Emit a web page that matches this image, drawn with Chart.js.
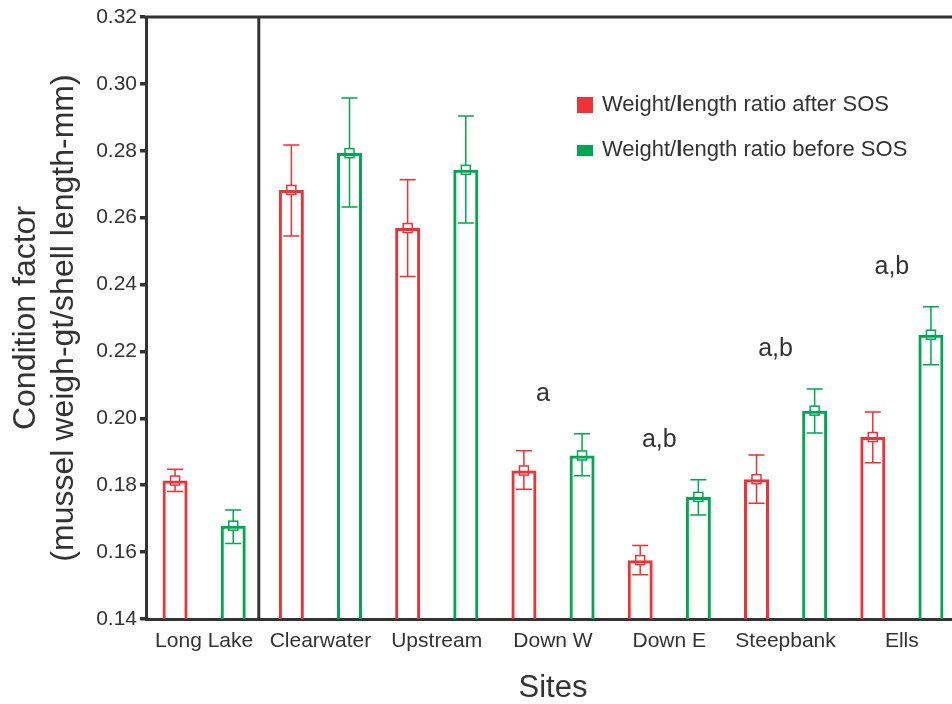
<!DOCTYPE html>
<html>
<head>
<meta charset="utf-8">
<script src="https://cdn.jsdelivr.net/npm/chart.js@4/dist/chart.umd.min.js"></script>
<style>
  html, body { margin: 0; padding: 0; background: #fff; overflow: hidden; width: 952px; height: 704px; }
  #wrap { width: 966px; height: 704px; }
</style>
</head>
<body>
<div id="wrap"><canvas id="c" width="966" height="704"></canvas></div>
<script>
// Sampling sites
const sites = ['Long Lake', 'Clearwater', 'Upstream', 'Down W', 'Down E', 'Steepbank', 'Ells'];

// Mean condition factor after SOS, with error-bar limits
const ratioAfter    = [0.1814, 0.2683, 0.2569, 0.1844, 0.1576, 0.1818, 0.1944];
const ratioAfterHi  = [0.1848, 0.2817, 0.2713, 0.1903, 0.1620, 0.1890, 0.2019];
const ratioAfterLo  = [0.1781, 0.2545, 0.2424, 0.1788, 0.1532, 0.1746, 0.1867];

// Mean condition factor before SOS, with error-bar limits
const ratioBefore   = [0.1679, 0.2793, 0.2743, 0.1889, 0.1765, 0.2023, 0.2250];
const ratioBeforeHi = [0.1726, 0.2958, 0.2904, 0.1954, 0.1816, 0.2088, 0.2334];
const ratioBeforeLo = [0.1626, 0.2632, 0.2584, 0.1828, 0.1711, 0.1956, 0.2160];

// Significance letters per site
const sigLetters = ['', '', '', 'a', 'a,b', 'a,b', 'a,b'];

// Value-axis range and tick step
const yMin = 0.14, yMax = 0.32, yStep = 0.02;

const RED = '#ED3338';
const GREEN = '#00A651';
const INK = '#333333';
const FONT = '"Liberation Sans", Arial, Helvetica, sans-serif';

// Whiskers and hollow square markers, drawn under the bar outlines
const errorBars = {
  id: 'errorBars',
  beforeDatasetsDraw(chart) {
    const ctx = chart.ctx, y = chart.scales.y;
    chart.data.datasets.forEach((ds, i) => {
      const meta = chart.getDatasetMeta(i);
      meta.data.forEach((bar, j) => {
        const x = bar.x;
        const yHi = y.getPixelForValue(ds.errHigh[j]);
        const yLo = y.getPixelForValue(ds.errLow[j]);
        const yMid = y.getPixelForValue(ds.data[j]);
        ctx.save();
        ctx.strokeStyle = ds.borderColor;
        ctx.lineWidth = 1.5;
        ctx.beginPath();
        ctx.moveTo(x, yHi); ctx.lineTo(x, yLo);
        ctx.moveTo(x - 8, yHi); ctx.lineTo(x + 8, yHi);
        ctx.moveTo(x - 8, yLo); ctx.lineTo(x + 8, yLo);
        ctx.stroke();
        ctx.fillStyle = '#fff';
        ctx.fillRect(x - 4.5, yMid - 4.5, 9, 9);
        ctx.strokeRect(x - 4.5, yMid - 4.5, 9, 9);
        ctx.restore();
      });
    });
  }
};

// Frame top edge, control-site divider, significance letters and legend
const decorations = {
  id: 'decorations',
  afterDraw(chart) {
    const ctx = chart.ctx, a = chart.chartArea, xs = chart.scales.x, ys = chart.scales.y;
    ctx.save();
    ctx.strokeStyle = INK;
    ctx.lineWidth = 3;
    ctx.beginPath();
    ctx.moveTo(a.left - 1.5, a.top); ctx.lineTo(a.right, a.top);
    const xDiv = xs.getPixelForValue(0.47);
    ctx.moveTo(xDiv, a.top); ctx.lineTo(xDiv, a.bottom);
    ctx.stroke();

    // letters above the higher whisker of each site
    ctx.fillStyle = INK;
    ctx.font = '25px ' + FONT;
    ctx.textAlign = 'center';
    ctx.textBaseline = 'middle';
    sigLetters.forEach((t, j) => {
      if (!t) return;
      const top = Math.min(ys.getPixelForValue(ratioAfterHi[j]), ys.getPixelForValue(ratioBeforeHi[j]));
      ctx.fillText(t, xs.getPixelForValue(j) - 10, top - 40);
    });

    // legend
    const rows = [{ y: 105, boxY: 97, boxH: 16 }, { y: 150, boxY: 145, boxH: 11 }];
    ctx.textAlign = 'left';
    chart.data.datasets.forEach((ds, i) => {
      const r = rows[i];
      ctx.fillStyle = ds.borderColor;
      ctx.fillRect(577, r.boxY, 16, r.boxH);
      ctx.fillStyle = INK;
      const label = ds.label;
      const k = label.indexOf('/') + 1;
      let x = 602;
      const parts = [[label.slice(0, k), ''], [label.charAt(k), 'bold '], [label.slice(k + 1), '']];
      parts.forEach(([s, w]) => {
        ctx.font = w + '22px ' + FONT;
        ctx.fillText(s, x, r.y);
        x += ctx.measureText(s).width;
      });
    });
    ctx.restore();
  }
};

new Chart(document.getElementById('c'), {
  type: 'bar',
  data: {
    labels: sites,
    datasets: [
      {
        label: 'Weight/length ratio after SOS',
        data: ratioAfter, errHigh: ratioAfterHi, errLow: ratioAfterLo,
        backgroundColor: 'rgba(0,0,0,0)', borderColor: RED, borderWidth: 3
      },
      {
        label: 'Weight/length ratio before SOS',
        data: ratioBefore, errHigh: ratioBeforeHi, errLow: ratioBeforeLo,
        backgroundColor: 'rgba(0,0,0,0)', borderColor: GREEN, borderWidth: 3
      }
    ]
  },
  options: {
    responsive: false,
    animation: false,
    devicePixelRatio: 1,
    layout: { padding: { top: 17, right: 6, left: 0, bottom: 0 } },
    datasets: { bar: { categoryPercentage: 1.0, barPercentage: 0.43 } },
    plugins: { legend: { display: false }, tooltip: { enabled: false } },
    scales: {
      x: {
        grid: { display: false, drawTicks: false },
        border: { display: true, color: INK, width: 3 },
        ticks: { color: INK, font: { family: FONT, size: 21 }, padding: 10, maxRotation: 0, autoSkip: false },
        title: { display: true, text: 'Sites', color: INK, font: { family: FONT, size: 31, lineHeight: 1 }, padding: { top: 0, bottom: 0 } },
        afterFit(s) { s.height = 85; }
      },
      y: {
        min: yMin, max: yMax,
        grid: { display: true, drawOnChartArea: false, drawTicks: true, tickLength: 6, lineWidth: 3.5, color: INK },
        border: { display: true, color: INK, width: 3 },
        ticks: { stepSize: yStep, color: INK, font: { family: FONT, size: 21 }, padding: 3, callback: v => v.toFixed(2) },
        title: {
          display: true,
          text: ['Condition factor', '(mussel weigh-gt/shell length-mm)'],
          color: INK, font: { family: FONT, size: 32, lineHeight: '38px' }, padding: { top: 7, bottom: 0 }
        },
        afterFit(s) { s.width = 146; }
      }
    }
  },
  plugins: [errorBars, decorations]
});
</script>
</body>
</html>
